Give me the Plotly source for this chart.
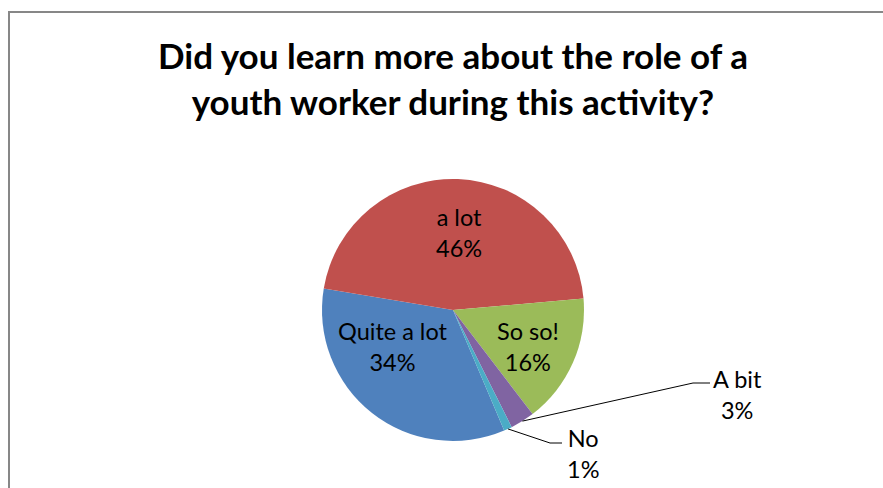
import math
import plotly.graph_objects as go

# Survey answers, in series order (Excel-style palette order)
labels = ["Quite a lot", "a lot", "So so!", "A bit", "No"]
percent = [34, 46, 16, 3, 1]
colors = ["#4F81BD", "#C0504D", "#9BBB59", "#8064A2", "#4BACC6"]

title = "Did you learn more about the role of a<br>youth worker during this activity?"

W, H = 883, 488
CX, CY, R = 453, 310, 131  # pie centre / radius in pixels
ROTATION = 157

FONT = "Lato"
LABEL_SIZE = 23.5

fig = go.Figure()
fig.add_trace(go.Pie(
    labels=labels,
    values=percent,
    sort=False,
    direction="clockwise",
    rotation=ROTATION,
    marker=dict(colors=colors, line=dict(width=0)),
    textinfo="none",
    hoverinfo="label+percent",
    showlegend=False,
    domain=dict(x=[(CX - R) / W, (CX + R) / W],
                y=[(H - CY - R) / H, (H - CY + R) / H]),
))


def px_to_paper(x, y):
    return x / W, 1 - y / H


def edge_point(i):
    """Point on the pie rim at the middle of slice i (pixel coords)."""
    total = sum(percent)
    before = sum(percent[:i])
    theta = math.radians(ROTATION + 360 * (before + percent[i] / 2) / total)
    return CX + R * math.sin(theta), CY - R * math.cos(theta)


# Inside labels (pixel centres of the two-line blocks)
inside_pos = {0: (393, 346), 1: (459, 232), 2: (528, 346)}
for i, (x, y) in inside_pos.items():
    px, py = px_to_paper(x, y)
    fig.add_annotation(x=px, y=py, xref="paper", yref="paper",
                       text=f"{labels[i]}<br>{percent[i]}%", showarrow=False,
                       font=dict(family=FONT, size=LABEL_SIZE, color="#000000"),
                       xanchor="center", yanchor="middle", align="center")

# Outside labels with leader lines: (elbow point, end of horizontal, text centre)
outside = {
    3: ((693, 383), (710, 383), (737, 394)),
    4: ((550, 443), (562, 443), (583, 453)),
}
for i, (elbow, end, txt) in outside.items():
    sx, sy = edge_point(i)
    path_pts = [px_to_paper(sx, sy), px_to_paper(*elbow), px_to_paper(*end)]
    path = "M " + " L ".join(f"{p[0]},{p[1]}" for p in path_pts)
    fig.add_shape(type="path", path=path, xref="paper", yref="paper",
                  line=dict(color="#000000", width=1))
    px, py = px_to_paper(*txt)
    fig.add_annotation(x=px, y=py, xref="paper", yref="paper",
                       text=f"{labels[i]}<br>{percent[i]}%", showarrow=False,
                       font=dict(family=FONT, size=LABEL_SIZE, color="#000000"),
                       xanchor="center", yanchor="middle", align="center")

# Chart-area border (runs off the right and bottom edges)
bx0, by1 = px_to_paper(9, 12)
fig.add_shape(type="rect", xref="paper", yref="paper",
              x0=bx0, y0=-0.2, x1=1.2, y1=by1,
              line=dict(color="#878787", width=2), fillcolor="rgba(0,0,0,0)")

tx, ty = px_to_paper(452.5, 78)
fig.add_annotation(x=tx, y=ty, xref="paper", yref="paper", text=f"<b>{title}</b>",
                   showarrow=False, xanchor="center", yanchor="middle", align="center",
                   font=dict(family=FONT, size=35, color="#000000"))

fig.update_layout(
    width=W, height=H,
    margin=dict(l=0, r=0, t=0, b=0),
    paper_bgcolor="#FFFFFF",
    plot_bgcolor="#FFFFFF",
)

fig.write_html("out.html")
